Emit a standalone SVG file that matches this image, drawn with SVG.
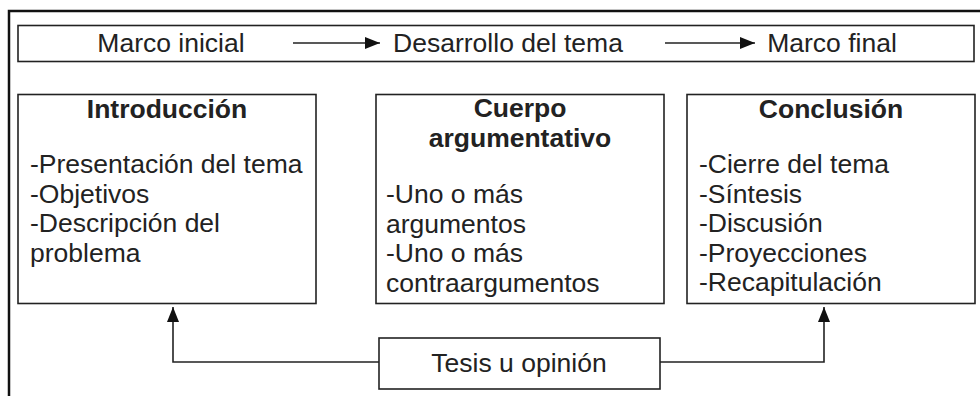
<svg xmlns="http://www.w3.org/2000/svg" width="980" height="396" viewBox="0 0 980 396">
<defs>
<style>
text{font-family:"Liberation Sans",Arial,sans-serif;font-size:26.5px;fill:#222}
.b{font-weight:bold}
.c{text-anchor:middle}
.box{fill:#fff;stroke:#222;stroke-width:1.6}
.con{fill:none;stroke:#222;stroke-width:1.6}
</style>
<marker id="ah" markerUnits="userSpaceOnUse" markerWidth="16" markerHeight="12" refX="15" refY="6" orient="auto">
<path d="M0,0 L15,6 L0,12 Z" fill="#111"/>
</marker>
</defs>
<rect width="980" height="396" fill="#fff"/>
<path d="M9,396 V11 H980" fill="none" stroke="#111" stroke-width="2.5"/>
<g id="marco">
<rect class="box" x="18" y="25.5" width="956" height="36"/>
<text class="c" x="171" y="52">Marco inicial</text>
<text class="c" x="508" y="52">Desarrollo del tema</text>
<text class="c" x="832" y="52">Marco final</text>
</g>
<g id="introduccion">
<rect class="box" x="18" y="94.5" width="298" height="209"/>
<text class="b c" x="167" y="118">Introducción</text>
<text x="30" y="173">-Presentación del tema</text>
<text x="30" y="202.5">-Objetivos</text>
<text x="30" y="232">-Descripción del</text>
<text x="30" y="261.5">problema</text>
</g>
<g id="cuerpo">
<rect class="box" x="376" y="94.5" width="288" height="209"/>
<text class="b c" x="520" y="117">Cuerpo</text>
<text class="b c" x="520" y="147">argumentativo</text>
<text x="386" y="203">-Uno o más</text>
<text x="386" y="232.5">argumentos</text>
<text x="386" y="262">-Uno o más</text>
<text x="386" y="292">contraargumentos</text>
</g>
<g id="conclusion">
<rect class="box" x="687" y="94.5" width="288" height="209"/>
<text class="b c" x="831" y="118">Conclusión</text>
<text x="699" y="173">-Cierre del tema</text>
<text x="699" y="202.5">-Síntesis</text>
<text x="699" y="232">-Discusión</text>
<text x="699" y="261.5">-Proyecciones</text>
<text x="699" y="291">-Recapitulación</text>
</g>
<g id="tesis">
<rect class="box" x="379" y="338" width="281" height="51"/>
<text class="c" x="519" y="372">Tesis u opinión</text>
</g>
<g id="connectors">
<path class="con" d="M293,43 H380" marker-end="url(#ah)"/>
<path class="con" d="M665,43 H755" marker-end="url(#ah)"/>
<path class="con" d="M379,362 H173 V307" marker-end="url(#ah)"/>
<path class="con" d="M660,362 H824 V307" marker-end="url(#ah)"/>
</g>
</svg>
